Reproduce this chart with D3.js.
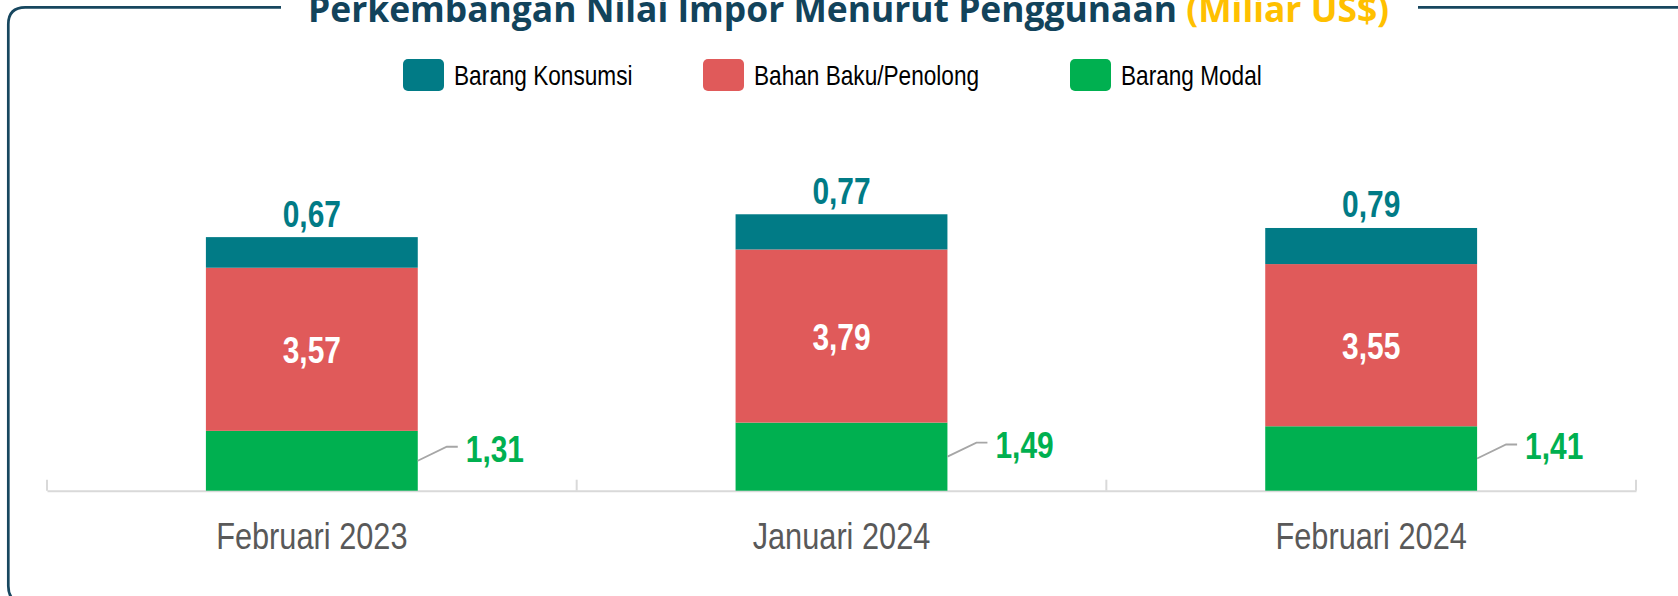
<!DOCTYPE html>
<html>
<head>
<meta charset="utf-8">
<script src="https://cdn.jsdelivr.net/npm/d3@7"></script>
<style>
  html, body { margin: 0; padding: 0; background: #ffffff; overflow: hidden; }
  .narrow { font-family: 'Liberation Sans', Arial, sans-serif; }
</style>
</head>
<body>
<div id="chart"></div>
<script>
// Data (Miliar US$)
const periods = ['Februari 2023', 'Januari 2024', 'Februari 2024'];
const barangModal = [1.31, 1.49, 1.41];
const bahanBaku = [3.57, 3.79, 3.55];
const barangKonsumsi = [0.67, 0.77, 0.79];
const seriesNames = ['Barang Konsumsi', 'Bahan Baku/Penolong', 'Barang Modal'];

const fmt = v => v.toFixed(2).replace('.', ',');

// Set the dimensions
const width = 1678;
const height = 596;
const axisY = 490.7;
const squeeze = 0.82; // Arial Narrow is Arial at 82% width
const colors = {
    'Barang Konsumsi': '#017B86',
    'Bahan Baku/Penolong': '#E05A5A',
    'Barang Modal': '#00B050'
};

const svg = d3.select('#chart')
    .append('svg')
    .attr('width', width)
    .attr('height', height);

// Frame with a gap for the title
const fx = 8.3, fy = 7.3, fr = 17, fb = 603;
svg.append('path')
    .attr('d', `M281,${fy} L${fx + fr},${fy} Q${fx},${fy} ${fx},${fy + fr} L${fx},${fb - fr} Q${fx},${fb} ${fx + fr},${fb} L${width + 20},${fb}`
        + ` M1418,${fy} L${width + 20},${fy}`)
    .attr('fill', 'none')
    .attr('stroke', '#17475F')
    .attr('stroke-width', 2.7);

// Title
const title = svg.append('text')
    .attr('x', 308)
    .attr('y', 22)
    .style('font-family', "'Open Sans', sans-serif")
    .style('font-weight', 700)
    .style('font-size', '35.4px');
title.append('tspan').attr('fill', '#12435B').text('Perkembangan Nilai Impor Menurut Penggunaan ');
title.append('tspan').attr('fill', '#FFC000').text('(Miliar US$)');

// Legend
const legendX = [403, 703, 1070];
const legend = svg.selectAll('.legend')
    .data(seriesNames)
    .enter()
    .append('g')
    .attr('class', 'legend')
    .attr('transform', (d, i) => `translate(${legendX[i]}, 59)`);
legend.append('rect')
    .attr('width', 41)
    .attr('height', 32)
    .attr('rx', 5)
    .attr('fill', d => colors[d]);
legend.append('text')
    .attr('class', 'narrow')
    .attr('transform', `translate(51, 26) scale(${squeeze}, 1)`)
    .style('font-size', '27.6px')
    .attr('fill', '#000000')
    .text(d => d);

// Scales
const x = d3.scaleBand()
    .domain(periods)
    .range([47, 1636])
    .paddingInner(0.6)
    .paddingOuter(0.3);
const xCat = d3.scaleBand()
    .domain(periods)
    .range([47, 1636]);
const y = d3.scaleLinear()
    .domain([0, 7])
    .range([axisY, axisY - 7 * 45.69]);

// Axis
const gXAxis = svg.append('g')
    .attr('transform', `translate(0, ${axisY})`)
    .call(d3.axisBottom(xCat).tickSize(0).tickSizeOuter(0));
gXAxis.select('.domain').attr('stroke', '#D9D9D9').attr('stroke-width', 2);
gXAxis.selectAll('text')
    .attr('class', 'narrow')
    .attr('y', 58.5)
    .attr('dy', null)
    .attr('transform', `scale(${squeeze}, 1)`)
    .attr('fill', '#595959')
    .style('font-size', '37.5px');

const boundaries = periods.map(p => xCat(p)).concat([xCat.range()[1]]);
svg.append('g').selectAll('line')
    .data(boundaries)
    .enter()
    .append('line')
    .attr('x1', d => d).attr('x2', d => d)
    .attr('y1', axisY - 11).attr('y2', axisY)
    .attr('stroke', '#D9D9D9')
    .attr('stroke-width', 2);

// Stacked bars
const rows = periods.map((p, i) => ({
    period: p,
    'Barang Modal': barangModal[i],
    'Bahan Baku/Penolong': bahanBaku[i],
    'Barang Konsumsi': barangKonsumsi[i]
}));
const stacked = d3.stack()
    .keys(['Barang Modal', 'Bahan Baku/Penolong', 'Barang Konsumsi'])(rows);

const layers = svg.append('g').selectAll('g')
    .data(stacked)
    .enter()
    .append('g')
    .attr('fill', d => colors[d.key]);
layers.selectAll('rect')
    .data(d => d)
    .enter()
    .append('rect')
    .attr('x', d => x(d.data.period))
    .attr('y', d => y(d[1]))
    .attr('width', x.bandwidth())
    .attr('height', d => y(d[0]) - y(d[1]));

// Bold narrow value label placed at (px, py)
const valueLabel = (sel, px, py) => sel
    .attr('class', 'narrow')
    .style('font-weight', 700)
    .style('font-size', '36.5px')
    .attr('transform', d => `translate(${px(d)}, ${py(d)}) scale(${squeeze}, 1)`);

const center = d => x(d.data.period) + x.bandwidth() / 2;

// Barang Konsumsi labels above bars
svg.append('g').selectAll('text')
    .data(stacked[2])
    .enter()
    .append('text')
    .call(valueLabel, center, d => y(d[1]) - 10.5)
    .attr('text-anchor', 'middle')
    .attr('fill', '#017B86')
    .text(d => fmt(d.data['Barang Konsumsi']));

// Bahan Baku labels inside bars
svg.append('g').selectAll('text')
    .data(stacked[1])
    .enter()
    .append('text')
    .call(valueLabel, center, d => (y(d[0]) + y(d[1])) / 2 + 14)
    .attr('text-anchor', 'middle')
    .attr('fill', '#ffffff')
    .text(d => fmt(d.data['Bahan Baku/Penolong']));

// Barang Modal labels with leader lines
const modal = svg.append('g').selectAll('g')
    .data(stacked[0])
    .enter()
    .append('g');
modal.append('path')
    .attr('d', d => {
        const x0 = x(d.data.period) + x.bandwidth();
        const mid = (y(d[0]) + y(d[1])) / 2;
        return `M${x0},${mid} L${x0 + 29},${mid - 14} L${x0 + 40},${mid - 14}`;
    })
    .attr('fill', 'none')
    .attr('stroke', '#A6A6A6')
    .attr('stroke-width', 1.8);
modal.append('text')
    .call(valueLabel, d => x(d.data.period) + x.bandwidth() + 48, d => (y(d[0]) + y(d[1])) / 2 + 1)
    .attr('fill', '#00B050')
    .text(d => fmt(d.data['Barang Modal']));
</script>
</body>
</html>
